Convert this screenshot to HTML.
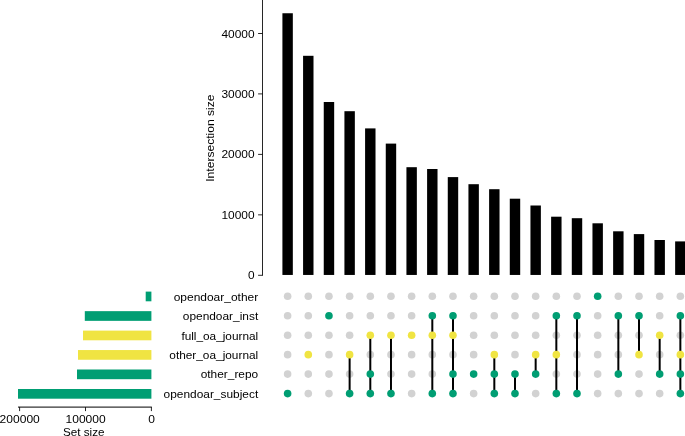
<!DOCTYPE html>
<html><head><meta charset="utf-8"><title>UpSet plot</title>
<style>
html,body{margin:0;padding:0;background:#fff;}
body{width:685px;height:436px;overflow:hidden;font-family:"Liberation Sans",sans-serif;}
svg{display:block;will-change:transform;}
text{font-family:"Liberation Sans",sans-serif;fill:#000;}
</style></head><body>
<svg width="685" height="436" viewBox="0 0 685 436">
<rect x="0" y="0" width="685" height="436" fill="#fff"/>
<g fill="#000">
<rect x="282.41" y="13.25" width="10.42" height="261.70"/>
<rect x="303.08" y="55.80" width="10.42" height="219.15"/>
<rect x="323.75" y="102.00" width="10.42" height="172.95"/>
<rect x="344.42" y="111.20" width="10.42" height="163.75"/>
<rect x="365.09" y="128.40" width="10.42" height="146.55"/>
<rect x="385.76" y="143.60" width="10.42" height="131.35"/>
<rect x="406.43" y="167.20" width="10.42" height="107.75"/>
<rect x="427.10" y="169.00" width="10.42" height="105.95"/>
<rect x="447.77" y="177.10" width="10.42" height="97.85"/>
<rect x="468.44" y="184.20" width="10.42" height="90.75"/>
<rect x="489.11" y="189.20" width="10.42" height="85.75"/>
<rect x="509.78" y="198.70" width="10.42" height="76.25"/>
<rect x="530.45" y="205.50" width="10.42" height="69.45"/>
<rect x="551.12" y="216.70" width="10.42" height="58.25"/>
<rect x="571.79" y="218.20" width="10.42" height="56.75"/>
<rect x="592.46" y="223.30" width="10.42" height="51.65"/>
<rect x="613.13" y="231.30" width="10.42" height="43.65"/>
<rect x="633.80" y="234.10" width="10.42" height="40.85"/>
<rect x="654.47" y="240.00" width="10.42" height="34.95"/>
<rect x="675.14" y="241.40" width="10.42" height="33.55"/>
</g>
<g stroke="#000" stroke-width="0.85" fill="none">
<line x1="262.5" y1="0" x2="262.5" y2="275.7"/>
<line x1="258.1" y1="275.30" x2="262.5" y2="275.30"/>
<line x1="258.1" y1="214.85" x2="262.5" y2="214.85"/>
<line x1="258.1" y1="154.40" x2="262.5" y2="154.40"/>
<line x1="258.1" y1="93.90" x2="262.5" y2="93.90"/>
<line x1="258.1" y1="33.50" x2="262.5" y2="33.50"/>
</g>
<g class="t" font-size="11" text-anchor="end">
<text x="254.6" y="279.30" textLength="6.6" lengthAdjust="spacingAndGlyphs">0</text>
<text x="254.6" y="218.85" textLength="33.1" lengthAdjust="spacingAndGlyphs">10000</text>
<text x="254.6" y="158.40" textLength="33.1" lengthAdjust="spacingAndGlyphs">20000</text>
<text x="254.6" y="97.90" textLength="33.1" lengthAdjust="spacingAndGlyphs">30000</text>
<text x="254.6" y="37.50" textLength="33.1" lengthAdjust="spacingAndGlyphs">40000</text>
</g>
<text class="t" font-size="11" text-anchor="middle" transform="translate(214.4 138.1) rotate(-90)" textLength="87.3" lengthAdjust="spacingAndGlyphs">Intersection size</text>
<g>
<rect x="145.70" y="291.60" width="5.70" height="9.7" fill="#009E73"/>
<rect x="84.80" y="311.15" width="66.60" height="9.7" fill="#009E73"/>
<rect x="83.00" y="330.60" width="68.40" height="9.7" fill="#F0E442"/>
<rect x="78.00" y="350.05" width="73.40" height="9.7" fill="#F0E442"/>
<rect x="77.00" y="369.50" width="74.40" height="9.7" fill="#009E73"/>
<rect x="18.00" y="389.00" width="133.40" height="9.7" fill="#009E73"/>
</g>
<g stroke="#000" stroke-width="0.85" fill="none">
<line x1="18.0" y1="407.1" x2="151.85" y2="407.1" stroke-width="1"/>
<line x1="19.6" y1="407.1" x2="19.6" y2="411.1"/>
<line x1="85.5" y1="407.1" x2="85.5" y2="411.1"/>
<line x1="151.4" y1="407.1" x2="151.4" y2="411.1"/>
</g>
<g class="t" font-size="11" text-anchor="middle">
<text x="19.7" y="423.0" textLength="40.2" lengthAdjust="spacingAndGlyphs">200000</text>
<text x="85.6" y="423.0" textLength="40.2" lengthAdjust="spacingAndGlyphs">100000</text>
<text x="151.7" y="423.0" textLength="6.7" lengthAdjust="spacingAndGlyphs">0</text>
<text x="83.7" y="435.5" textLength="41.6" lengthAdjust="spacingAndGlyphs">Set size</text>
</g>
<g class="t" font-size="11" text-anchor="end">
<text x="258.2" y="300.55" textLength="84.5" lengthAdjust="spacingAndGlyphs">opendoar_other</text>
<text x="258.2" y="320.10" textLength="75.4" lengthAdjust="spacingAndGlyphs">opendoar_inst</text>
<text x="258.2" y="339.55" textLength="76.8" lengthAdjust="spacingAndGlyphs">full_oa_journal</text>
<text x="258.2" y="359.00" textLength="88.9" lengthAdjust="spacingAndGlyphs">other_oa_journal</text>
<text x="258.2" y="378.45" textLength="57.5" lengthAdjust="spacingAndGlyphs">other_repo</text>
<text x="258.2" y="397.95" textLength="94.6" lengthAdjust="spacingAndGlyphs">opendoar_subject</text>
</g>
<g fill="#D2D2D2">
<circle cx="287.62" cy="296.20" r="3.8"/>
<circle cx="287.62" cy="315.75" r="3.8"/>
<circle cx="287.62" cy="335.20" r="3.8"/>
<circle cx="287.62" cy="354.65" r="3.8"/>
<circle cx="287.62" cy="374.10" r="3.8"/>
<circle cx="308.29" cy="296.20" r="3.8"/>
<circle cx="308.29" cy="315.75" r="3.8"/>
<circle cx="308.29" cy="335.20" r="3.8"/>
<circle cx="308.29" cy="374.10" r="3.8"/>
<circle cx="308.29" cy="393.60" r="3.8"/>
<circle cx="328.96" cy="296.20" r="3.8"/>
<circle cx="328.96" cy="335.20" r="3.8"/>
<circle cx="328.96" cy="354.65" r="3.8"/>
<circle cx="328.96" cy="374.10" r="3.8"/>
<circle cx="328.96" cy="393.60" r="3.8"/>
<circle cx="349.63" cy="296.20" r="3.8"/>
<circle cx="349.63" cy="315.75" r="3.8"/>
<circle cx="349.63" cy="335.20" r="3.8"/>
<circle cx="349.63" cy="374.10" r="3.8"/>
<circle cx="370.30" cy="296.20" r="3.8"/>
<circle cx="370.30" cy="315.75" r="3.8"/>
<circle cx="370.30" cy="354.65" r="3.8"/>
<circle cx="390.97" cy="296.20" r="3.8"/>
<circle cx="390.97" cy="315.75" r="3.8"/>
<circle cx="390.97" cy="354.65" r="3.8"/>
<circle cx="390.97" cy="374.10" r="3.8"/>
<circle cx="411.64" cy="296.20" r="3.8"/>
<circle cx="411.64" cy="315.75" r="3.8"/>
<circle cx="411.64" cy="354.65" r="3.8"/>
<circle cx="411.64" cy="374.10" r="3.8"/>
<circle cx="411.64" cy="393.60" r="3.8"/>
<circle cx="432.31" cy="296.20" r="3.8"/>
<circle cx="432.31" cy="354.65" r="3.8"/>
<circle cx="432.31" cy="374.10" r="3.8"/>
<circle cx="452.98" cy="296.20" r="3.8"/>
<circle cx="452.98" cy="354.65" r="3.8"/>
<circle cx="473.65" cy="296.20" r="3.8"/>
<circle cx="473.65" cy="315.75" r="3.8"/>
<circle cx="473.65" cy="335.20" r="3.8"/>
<circle cx="473.65" cy="354.65" r="3.8"/>
<circle cx="473.65" cy="393.60" r="3.8"/>
<circle cx="494.32" cy="296.20" r="3.8"/>
<circle cx="494.32" cy="315.75" r="3.8"/>
<circle cx="494.32" cy="335.20" r="3.8"/>
<circle cx="514.99" cy="296.20" r="3.8"/>
<circle cx="514.99" cy="315.75" r="3.8"/>
<circle cx="514.99" cy="335.20" r="3.8"/>
<circle cx="514.99" cy="354.65" r="3.8"/>
<circle cx="535.66" cy="296.20" r="3.8"/>
<circle cx="535.66" cy="315.75" r="3.8"/>
<circle cx="535.66" cy="335.20" r="3.8"/>
<circle cx="535.66" cy="393.60" r="3.8"/>
<circle cx="556.33" cy="296.20" r="3.8"/>
<circle cx="556.33" cy="335.20" r="3.8"/>
<circle cx="556.33" cy="374.10" r="3.8"/>
<circle cx="577.00" cy="296.20" r="3.8"/>
<circle cx="577.00" cy="335.20" r="3.8"/>
<circle cx="577.00" cy="354.65" r="3.8"/>
<circle cx="577.00" cy="374.10" r="3.8"/>
<circle cx="597.67" cy="315.75" r="3.8"/>
<circle cx="597.67" cy="335.20" r="3.8"/>
<circle cx="597.67" cy="354.65" r="3.8"/>
<circle cx="597.67" cy="374.10" r="3.8"/>
<circle cx="597.67" cy="393.60" r="3.8"/>
<circle cx="618.34" cy="296.20" r="3.8"/>
<circle cx="618.34" cy="335.20" r="3.8"/>
<circle cx="618.34" cy="354.65" r="3.8"/>
<circle cx="618.34" cy="393.60" r="3.8"/>
<circle cx="639.01" cy="296.20" r="3.8"/>
<circle cx="639.01" cy="335.20" r="3.8"/>
<circle cx="639.01" cy="374.10" r="3.8"/>
<circle cx="639.01" cy="393.60" r="3.8"/>
<circle cx="659.68" cy="296.20" r="3.8"/>
<circle cx="659.68" cy="315.75" r="3.8"/>
<circle cx="659.68" cy="354.65" r="3.8"/>
<circle cx="659.68" cy="393.60" r="3.8"/>
<circle cx="680.35" cy="296.20" r="3.8"/>
<circle cx="680.35" cy="335.20" r="3.8"/>
</g>
<g stroke="#000" stroke-width="2" fill="none">
<line x1="349.63" y1="354.65" x2="349.63" y2="393.60"/>
<line x1="370.30" y1="335.20" x2="370.30" y2="393.60"/>
<line x1="390.97" y1="335.20" x2="390.97" y2="393.60"/>
<line x1="432.31" y1="315.75" x2="432.31" y2="393.60"/>
<line x1="452.98" y1="315.75" x2="452.98" y2="393.60"/>
<line x1="494.32" y1="354.65" x2="494.32" y2="393.60"/>
<line x1="514.99" y1="374.10" x2="514.99" y2="393.60"/>
<line x1="535.66" y1="354.65" x2="535.66" y2="374.10"/>
<line x1="556.33" y1="315.75" x2="556.33" y2="393.60"/>
<line x1="577.00" y1="315.75" x2="577.00" y2="393.60"/>
<line x1="618.34" y1="315.75" x2="618.34" y2="374.10"/>
<line x1="639.01" y1="315.75" x2="639.01" y2="354.65"/>
<line x1="659.68" y1="335.20" x2="659.68" y2="374.10"/>
<line x1="680.35" y1="315.75" x2="680.35" y2="393.60"/>
</g>
<g>
<circle cx="287.62" cy="393.60" r="3.8" fill="#009E73"/>
<circle cx="308.29" cy="354.65" r="3.8" fill="#F0E442"/>
<circle cx="328.96" cy="315.75" r="3.8" fill="#009E73"/>
<circle cx="349.63" cy="354.65" r="3.8" fill="#F0E442"/>
<circle cx="349.63" cy="393.60" r="3.8" fill="#009E73"/>
<circle cx="370.30" cy="335.20" r="3.8" fill="#F0E442"/>
<circle cx="370.30" cy="374.10" r="3.8" fill="#009E73"/>
<circle cx="370.30" cy="393.60" r="3.8" fill="#009E73"/>
<circle cx="390.97" cy="335.20" r="3.8" fill="#F0E442"/>
<circle cx="390.97" cy="393.60" r="3.8" fill="#009E73"/>
<circle cx="411.64" cy="335.20" r="3.8" fill="#F0E442"/>
<circle cx="432.31" cy="315.75" r="3.8" fill="#009E73"/>
<circle cx="432.31" cy="335.20" r="3.8" fill="#F0E442"/>
<circle cx="432.31" cy="393.60" r="3.8" fill="#009E73"/>
<circle cx="452.98" cy="315.75" r="3.8" fill="#009E73"/>
<circle cx="452.98" cy="335.20" r="3.8" fill="#F0E442"/>
<circle cx="452.98" cy="374.10" r="3.8" fill="#009E73"/>
<circle cx="452.98" cy="393.60" r="3.8" fill="#009E73"/>
<circle cx="473.65" cy="374.10" r="3.8" fill="#009E73"/>
<circle cx="494.32" cy="354.65" r="3.8" fill="#F0E442"/>
<circle cx="494.32" cy="374.10" r="3.8" fill="#009E73"/>
<circle cx="494.32" cy="393.60" r="3.8" fill="#009E73"/>
<circle cx="514.99" cy="374.10" r="3.8" fill="#009E73"/>
<circle cx="514.99" cy="393.60" r="3.8" fill="#009E73"/>
<circle cx="535.66" cy="354.65" r="3.8" fill="#F0E442"/>
<circle cx="535.66" cy="374.10" r="3.8" fill="#009E73"/>
<circle cx="556.33" cy="315.75" r="3.8" fill="#009E73"/>
<circle cx="556.33" cy="354.65" r="3.8" fill="#F0E442"/>
<circle cx="556.33" cy="393.60" r="3.8" fill="#009E73"/>
<circle cx="577.00" cy="315.75" r="3.8" fill="#009E73"/>
<circle cx="577.00" cy="393.60" r="3.8" fill="#009E73"/>
<circle cx="597.67" cy="296.20" r="3.8" fill="#009E73"/>
<circle cx="618.34" cy="315.75" r="3.8" fill="#009E73"/>
<circle cx="618.34" cy="374.10" r="3.8" fill="#009E73"/>
<circle cx="639.01" cy="315.75" r="3.8" fill="#009E73"/>
<circle cx="639.01" cy="354.65" r="3.8" fill="#F0E442"/>
<circle cx="659.68" cy="335.20" r="3.8" fill="#F0E442"/>
<circle cx="659.68" cy="374.10" r="3.8" fill="#009E73"/>
<circle cx="680.35" cy="315.75" r="3.8" fill="#009E73"/>
<circle cx="680.35" cy="354.65" r="3.8" fill="#F0E442"/>
<circle cx="680.35" cy="374.10" r="3.8" fill="#009E73"/>
<circle cx="680.35" cy="393.60" r="3.8" fill="#009E73"/>
</g>
</svg>
</body></html>
